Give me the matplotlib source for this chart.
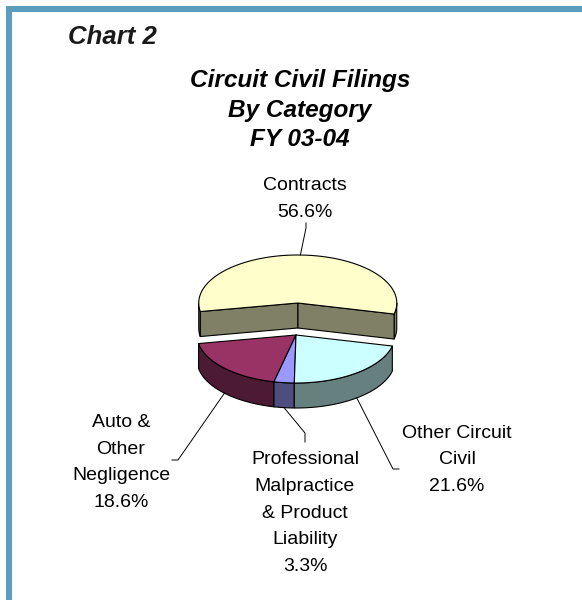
import numpy as np
import matplotlib.pyplot as plt
from matplotlib.patches import Polygon, Rectangle

plt.rcParams['font.family'] = ['Liberation Sans', 'DejaVu Sans']

# Data
categories = ['Contracts', 'Auto &\nOther\nNegligence',
              'Professional\nMalpractice\n& Product\nLiability', 'Other Circuit\nCivil']
shares = [56.6, 18.6, 3.3, 21.6]
explode = [0.667, 0, 0, 0]
top_colors = ['#FFFFCC', '#993366', '#9999FF', '#CCFFFF']
side_colors = ['#808066', '#4D1A33', '#4D4D80', '#668080']

# label placement (last-line baseline) and leader elbows, in pixels
label_pos = [(305, 217), (121, 507), (305, 571), (457, 491)]
leader_pts = [[(306, 228), (306, 223)],
              [(178, 460), (172, 460)],
              [(305, 433), (305, 442)],
              [(393, 469), (399, 469)]]

# Pie geometry (pixels)
cx, cy = 296, 335
rx, ry = 99, 48
depth = 25
start = -13.3

fig = plt.figure(figsize=(5.82, 6), dpi=100)
ax = fig.add_axes([0, 0, 1, 1])
ax.set_xlim(0, 582)
ax.set_ylim(600, 0)
ax.axis('off')

# frame
border = '#5B9EBC'
ax.add_patch(Rectangle((6, 6), 576, 5.5, color=border, lw=0))
ax.add_patch(Rectangle((6, 6), 5.5, 594, color=border, lw=0))


def arc(x0, y0, t1, t2, dy=0):
    t = np.radians(np.linspace(t1, t2, max(int(abs(t2 - t1)), 2) + 1))
    return np.column_stack([x0 + rx * np.cos(t), y0 - ry * np.sin(t) + dy])


def poly(pts, fc, z):
    ax.add_patch(Polygon(pts, closed=True, fc=fc, ec='black', lw=0.8,
                         joinstyle='round', zorder=z))


total = sum(shares)
bounds = start + np.concatenate([[0], np.cumsum(shares)]) / total * 360
n = len(shares)

slices = []
for i in range(n):
    t1, t2 = bounds[i], bounds[i + 1]
    m = np.radians((t1 + t2) / 2)
    ox = cx + explode[i] * rx * np.cos(m)
    oy = cy - explode[i] * ry * np.sin(m)
    slices.append((oy, i, t1, t2, ox))

z = 2
for oy, i, t1, t2, ox in sorted(slices, key=lambda s: (s[0], s[1])):
    # outer wall (front half only)
    for lo, hi in [(-180, 0), (180, 360), (540, 720)]:
        a1, a2 = max(t1, lo), min(t2, hi)
        if a2 > a1:
            top = arc(ox, oy, a1, a2)
            bot = arc(ox, oy, a2, a1, depth)
            poly(np.vstack([top, bot]), side_colors[i], z)
            z += 1
    # cut faces beside a gap
    gap = explode[i] > 0 or explode[i - 1] > 0 or explode[(i + 1) % n] > 0
    for t, vis in [(t1, np.cos(np.radians(t1)) > 0), (t2, np.cos(np.radians(t2)) < 0)]:
        if gap and vis:
            e = arc(ox, oy, t, t)[0]
            pts = [(ox, oy), tuple(e), (e[0], e[1] + depth), (ox, oy + depth)]
            poly(pts, side_colors[i], z)
            z += 1
    # top face
    poly(np.vstack([[(ox, oy)], arc(ox, oy, t1, t2)]), top_colors[i], z)
    z += 1

# labels with leader lines
for oy, i, t1, t2, ox in slices:
    m = np.radians((t1 + t2) / 2)
    ax_ = ox + rx * np.cos(m)
    ay_ = oy - ry * np.sin(m) + (depth if np.sin(m) < 0 else 0)
    xs = [ax_] + [p[0] for p in leader_pts[i]]
    ys = [ay_] + [p[1] for p in leader_pts[i]]
    ax.plot(xs, ys, color='black', lw=0.7, zorder=50)
    lx, ly = label_pos[i]
    ax.text(lx, ly, f"{categories[i]}\n{shares[i]:.1f}%", ha='center', va='baseline',
            multialignment='center', fontsize=14, linespacing=1.75, zorder=60)

ax.text(68, 44, 'Chart 2', fontsize=18.5, fontweight='bold', fontstyle='italic',
        ha='left', va='baseline', color='#1a1a1a')
ax.text(300, 146, 'Circuit Civil Filings\nBy Category\nFY 03-04', fontsize=17.6,
        fontweight='bold', fontstyle='italic', ha='center', va='baseline',
        multialignment='center', linespacing=1.35)

fig.savefig('out.png', dpi=100)
